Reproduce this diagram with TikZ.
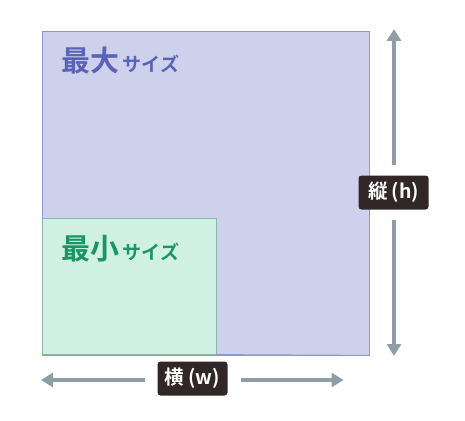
\documentclass[tikz,border=0pt]{standalone}
\usepackage{fontspec}
\setmainfont{Noto Sans CJK JP}
\newfontfamily\cjkb{Noto Sans CJK JP}[BoldFont={* Bold}]
\usetikzlibrary{arrows.meta}
\definecolor{bigfill}{HTML}{CED1EC}
\definecolor{bigline}{HTML}{8E95E0}
\definecolor{bigtext}{HTML}{5A63B8}
\definecolor{smallfill}{HTML}{D1F0E4}
\definecolor{smallline}{HTML}{8CB8A6}
\definecolor{smalltext}{HTML}{1B9663}
\definecolor{labfill}{HTML}{312728}
\definecolor{arrcol}{HTML}{8F9DA6}
\tikzset{
  x=1pt, y=1pt,
  dimlabel/.style={fill=labfill, text=white, rounded corners=3pt, minimum width=70pt, minimum height=34pt, inner sep=0pt, font=\cjkb\bfseries\fontsize{19.5}{19.5}\selectfont},
  dimarrow/.style={draw=arrcol, line width=4pt, -{Triangle[width=14pt,length=12pt]}},
  sizetext/.style={anchor=base west, inner sep=0pt, font=\cjkb\bfseries}
}
\begin{document}
\begin{tikzpicture}
\useasboundingbox (0,0) rectangle (465,-420);
\fill[white] (0,0) rectangle (465,-420);
% large box
\node[draw=bigline, fill=bigfill, line width=0.8pt, anchor=north west, minimum width=327pt, minimum height=323pt, inner sep=0pt] (big) at (41.5,-31.5) {};
% small box
\node[draw=smallline, fill=smallfill, line width=0.8pt, anchor=south west, minimum width=174pt, minimum height=136pt, inner sep=0pt] (small) at (41.5,-354.5) {};
\draw[bigline, line width=0.8pt] (small.south east) -- (big.south east);
% texts
\node[sizetext, text=bigtext] (bigt) at (61.5,-71) {{\fontsize{29}{29}\selectfont 最大}\kern3pt{\fontsize{19}{19}\selectfont サイズ}};
\node[sizetext, text=smalltext] (smallt) at (61.5,-259.5) {{\fontsize{29}{29}\selectfont 最小}\kern3pt{\fontsize{19}{19}\selectfont サイズ}};
% height dimension
\node[dimlabel] (hlab) at (393.5,-192.5) {縦\kern4pt(h)};
\coordinate (vtop) at (394,-29);
\coordinate (vbot) at (394,-356);
\draw[dimarrow, shorten <=10pt] (hlab.north -| vtop) -- (vtop);
\draw[dimarrow, shorten <=10pt] (hlab.south -| vbot) -- (vbot);
% width dimension
\node[dimlabel] (wlab) at (192.5,-378.5) {横\kern4pt(w)};
\coordinate (hleft) at (41,-380);
\coordinate (hright) at (343.5,-380);
\draw[dimarrow, shorten <=12pt] (wlab.west |- hleft) -- (hleft);
\draw[dimarrow, shorten <=13pt] (wlab.east |- hright) -- (hright);
\end{tikzpicture}
\end{document}
